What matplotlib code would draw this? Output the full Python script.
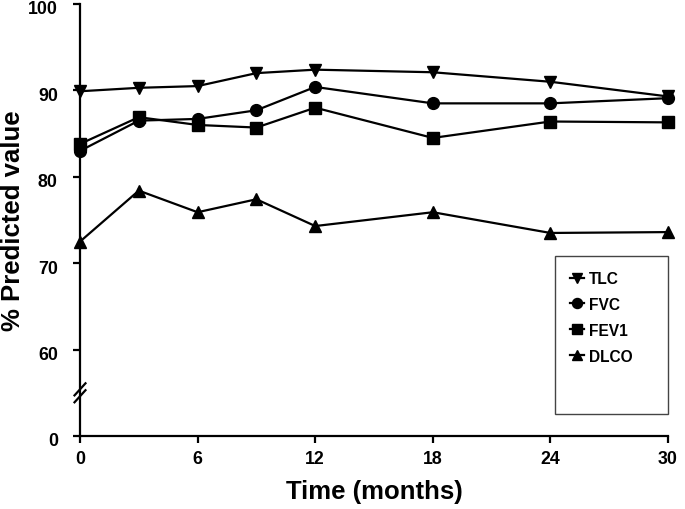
import numpy as np
import matplotlib
matplotlib.use("Agg")
import matplotlib.pyplot as plt
from matplotlib.patches import Rectangle
from matplotlib.transforms import ScaledTranslation

# ===============================
# DATA
# ===============================
months = [0, 3, 6, 9, 12, 18, 24, 30]
tlc = [89.9, 90.3, 90.5, 92.0, 92.4, 92.1, 91.0, 89.3]
fvc = [83.0, 86.5, 86.7, 87.7, 90.4, 88.5, 88.5, 89.1]
fev1 = [83.8, 86.9, 86.0, 85.7, 88.0, 84.5, 86.4, 86.3]
dlco = [72.5, 78.4, 75.9, 77.4, 74.3, 75.9, 73.5, 73.6]

x_ticks = [0, 6, 12, 18, 24, 30]
y_ticks = [50, 60, 70, 80, 90, 100]          # 50 sits where the broken axis shows 0
y_tick_labels = ["0", "60", "70", "80", "90", "100"]

# ===============================
# STYLE
# ===============================
plt.rcParams['font.family'] = ['Liberation Sans', 'DejaVu Sans']
plt.rcParams['font.weight'] = 'bold'

fig = plt.figure(figsize=(6.85, 5.10), dpi=100)
ax = fig.add_axes([80 / 685, 73 / 510, 588 / 685, 432 / 510])

series = [
    (tlc, 'v', 'TLC'),
    (fvc, 'o', 'FVC'),
    (fev1, 's', 'FEV1'),
    (dlco, '^', 'DLCO'),
]
for vals, mk, name in series:
    ax.plot(months, vals, color='black', lw=1.6, marker=mk, ms=8.5,
            label=name, clip_on=False, zorder=3)

ax.set_xlim(0, 30)
ax.set_ylim(50, 100)
ax.set_xticks(x_ticks)
ax.set_yticks(y_ticks)
ax.set_yticklabels(y_tick_labels)

for side in ['top', 'right']:
    ax.spines[side].set_visible(False)
for side in ['left', 'bottom']:
    ax.spines[side].set_linewidth(1.6)

ax.tick_params(axis='both', direction='out', length=5, width=1.6,
               labelsize=12.8)
ax.tick_params(axis='y', pad=11)
ax.tick_params(axis='x', pad=5)

# y tick labels sit a little below their ticks, as in the original
shift = ScaledTranslation(0, -3 / 100, fig.dpi_scale_trans)
for lab in ax.get_yticklabels():
    lab.set_transform(lab.get_transform() + shift)

ax.set_xlabel("Time (months)", fontsize=18.5, fontweight='bold')
ax.set_ylabel("% Predicted value", fontsize=18.5, fontweight='bold')
ax.xaxis.set_label_coords(0.5, -0.1)
ax.yaxis.set_label_coords(-0.0935, 0.5)

# axis break marks
for off in (-0.4, 0.4):
    ax.plot([-0.28, 0.28], [54.3 + off, 55.7 + off], color='black',
            lw=1.6, clip_on=False, zorder=4)

# legend
leg = ax.legend(loc='upper left', bbox_to_anchor=(570 / 685, (510 - 272) / 510),
                bbox_transform=fig.transFigure, frameon=False,
                fontsize=11.2, handlelength=0.9, handletextpad=0.3,
                labelspacing=0.7, borderpad=0, borderaxespad=0,
                markerscale=0.85)
fig.patches.append(Rectangle((555 / 685, (510 - 415) / 510),
                             113 / 685, 158 / 510,
                             transform=fig.transFigure, fill=False,
                             edgecolor='#444444', lw=1.0))

fig.savefig("out.png", dpi=100)
